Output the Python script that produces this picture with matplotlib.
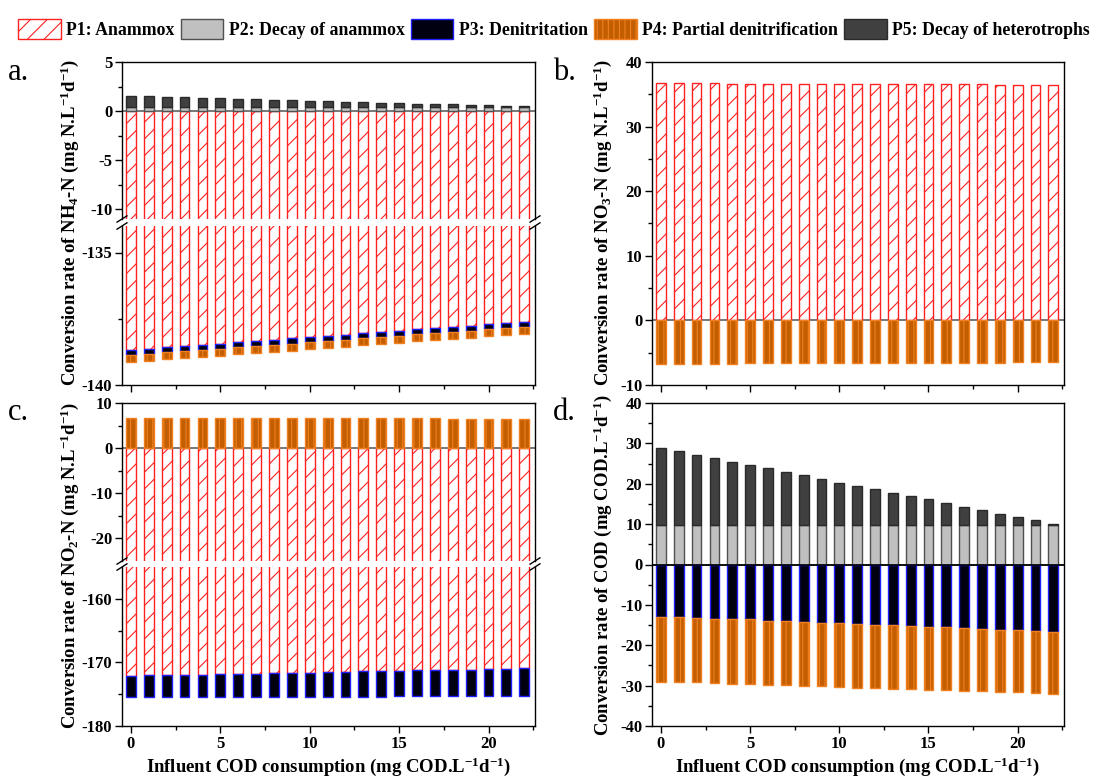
import numpy as np
import matplotlib
matplotlib.use("Agg")
import matplotlib.pyplot as plt
from matplotlib.patches import Patch

plt.rcParams['font.family'] = ['Liberation Serif', 'DejaVu Serif']
plt.rcParams['font.weight'] = 'bold'
plt.rcParams['axes.unicode_minus'] = False
plt.rcParams['mathtext.fontset'] = 'custom'
plt.rcParams['mathtext.rm'] = 'Liberation Serif:bold'
plt.rcParams['mathtext.it'] = 'Liberation Serif:bold'
plt.rcParams['mathtext.bf'] = 'Liberation Serif:bold'
plt.rcParams['hatch.linewidth'] = 0.8

# influent COD consumption (x positions)
cod = list(range(23))

# panel a: NH4-N
a_p1 = [-138.67, -138.63, -138.57, -138.52, -138.48, -138.44, -138.39, -138.33, -138.29, -138.24,
        -138.19, -138.14, -138.10, -138.04, -138.00, -137.96, -137.90, -137.85, -137.80, -137.76,
        -137.71, -137.66, -137.62]
a_p2 = [0.44] * 23
a_p3 = [-0.19, -0.19, -0.20, -0.19, -0.19, -0.20, -0.19, -0.20, -0.19, -0.20, -0.19, -0.20,
        -0.19, -0.20, -0.19, -0.20, -0.19, -0.20, -0.19, -0.20, -0.19, -0.20, -0.20]
a_p4 = [-0.26, -0.26, -0.26, -0.26, -0.26, -0.26, -0.26, -0.26, -0.26, -0.26, -0.26, -0.26,
        -0.26, -0.26, -0.26, -0.26, -0.26, -0.26, -0.26, -0.26, -0.26, -0.26, -0.26]
a_p5 = [1.09, 1.06, 0.99, 0.95, 0.89, 0.85, 0.78, 0.75, 0.72, 0.65, 0.61, 0.55,
        0.51, 0.44, 0.40, 0.36, 0.31, 0.27, 0.23, 0.19, 0.15, 0.12, 0.08]

# panel b: NO3-N
b_p1 = [36.70, 36.69, 36.68, 36.68, 36.67, 36.66, 36.65, 36.64, 36.63, 36.62, 36.61, 36.60,
        36.59, 36.58, 36.57, 36.56, 36.55, 36.54, 36.52, 36.51, 36.50, 36.48, 36.45]
b_p4 = [-6.70, -6.70, -6.69, -6.68, -6.68, -6.67, -6.66, -6.65, -6.64, -6.63, -6.62, -6.61,
        -6.60, -6.59, -6.58, -6.57, -6.56, -6.55, -6.53, -6.52, -6.50, -6.48, -6.45]

# panel c: NO2-N
c_p1 = [-172.07, -172.02, -172.02, -171.92, -171.92, -171.87, -171.81, -171.81, -171.71, -171.66,
        -171.61, -171.50, -171.50, -171.40, -171.35, -171.35, -171.24, -171.24, -171.19, -171.14,
        -171.09, -171.04, -170.93]
c_p3 = [-3.42, -3.46, -3.46, -3.55, -3.55, -3.59, -3.64, -3.63, -3.72, -3.76, -3.80, -3.90,
        -3.89, -3.98, -4.02, -4.01, -4.11, -4.10, -4.14, -4.18, -4.22, -4.26, -4.35]
c_p4 = [6.78, 6.78, 6.77, 6.76, 6.76, 6.72, 6.71, 6.70, 6.69, 6.68, 6.66, 6.64,
        6.63, 6.62, 6.61, 6.60, 6.59, 6.57, 6.56, 6.55, 6.52, 6.50, 6.47]

# panel d: COD
d_p2 = [9.85] * 23
d_p5 = [19.05, 18.25, 17.35, 16.55, 15.65, 14.75, 13.95, 13.05, 12.25, 11.35, 10.45, 9.65,
        8.75, 7.95, 7.05, 6.25, 5.35, 4.45, 3.65, 2.75, 1.95, 1.05, 0.15]
d_p3 = [-12.97, -13.06, -13.20, -13.40, -13.50, -13.60, -13.90, -14.00, -14.20, -14.40, -14.50, -14.70,
        -14.90, -15.10, -15.20, -15.40, -15.60, -15.70, -15.90, -16.10, -16.30, -16.40, -16.60]
d_p4 = [-16.03, -16.04, -16.00, -16.00, -16.00, -16.10, -15.90, -15.95, -15.90, -15.80, -15.85, -15.80,
        -15.70, -15.65, -15.70, -15.60, -15.55, -15.60, -15.50, -15.45, -15.40, -15.45, -15.40]

legend_labels = ['P1: Anammox', 'P2: Decay of anammox', 'P3: Denitritation',
                 'P4: Partial denitrification', 'P5: Decay of heterotrophs']

W = 0.55
sty = {
    'p1': dict(facecolor='white', edgecolor='#FF2020', hatch='//', linewidth=1.0),
    'p2': dict(facecolor='#C0C0C0', edgecolor='#505050', linewidth=1.0),
    'p3': dict(facecolor='#000010', edgecolor='#2020FF', linewidth=1.0),
    'p4': dict(facecolor='#C25E00', edgecolor='#F08020', hatch='|||', linewidth=1.0),
    'p5': dict(facecolor='#404040', edgecolor='#2A2A2A', linewidth=1.0),
}

fig = plt.figure(figsize=(11.05, 7.81), dpi=100)
FW, FH = 1105, 781


def add_ax(x0, x1, y0, y1):
    return fig.add_axes([x0 / FW, 1 - y1 / FH, (x1 - x0) / FW, (y1 - y0) / FH])


def style_ax(ax, labels_x):
    ax.set_xlim(-0.5, 22.6)
    ax.set_xticks([0, 5, 10, 15, 20])
    ax.set_xticks(np.arange(0, 23, 2.5), minor=True)
    ax.tick_params(axis='both', which='major', direction='out', length=5, width=1,
                   labelsize=12, pad=2, top=False, right=False)
    ax.tick_params(axis='both', which='minor', direction='out', length=3, width=1,
                   top=False, right=False)
    if not labels_x:
        ax.tick_params(axis='x', labelbottom=False)
    for s in ax.spines.values():
        s.set_linewidth(1.0)
    ax.axhline(0, color='#606060', linewidth=1.2, zorder=0.5)


def break_marks(top, bot):
    d = 0.012
    kw = dict(color='black', clip_on=False, linewidth=1)
    top.spines['bottom'].set_visible(False)
    bot.spines['top'].set_visible(False)
    top.tick_params(axis='x', which='both', bottom=False, labelbottom=False)
    for x in (0, 1):
        top.plot((x - d, x + d), (-0.02, 0.02), transform=top.transAxes, **kw)
        bot.plot((x - d, x + d), (0.98, 1.02), transform=bot.transAxes, **kw)


# ---- panel a ----
a_top = add_ax(122, 535, 62, 219)
a_bot = add_ax(122, 535, 226, 385)
for ax in (a_top, a_bot):
    ax.bar(cod, a_p1, W, **sty['p1'])
    ax.bar(cod, a_p3, W, bottom=a_p1, **sty['p3'])
    ax.bar(cod, a_p4, W, bottom=np.add(a_p1, a_p3), **sty['p4'])
    ax.bar(cod, a_p2, W, **sty['p2'])
    ax.bar(cod, a_p5, W, bottom=a_p2, **sty['p5'])
    style_ax(ax, False)
a_top.set_ylim(-11, 5)
a_top.set_yticks([5, 0, -5, -10])
a_top.set_yticks([2.5, -2.5, -7.5], minor=True)
a_bot.set_ylim(-140, -134)
a_bot.set_yticks([-135, -140])
a_bot.set_yticks([-137.5], minor=True)
break_marks(a_top, a_bot)

# ---- panel b ----
b = add_ax(652, 1064, 62, 385)
b.bar(cod, b_p1, W, **sty['p1'])
b.bar(cod, b_p4, W, **sty['p4'])
style_ax(b, False)
b.set_ylim(-10, 40)
b.set_yticks([40, 30, 20, 10, 0, -10])
b.set_yticks(np.arange(-5, 40, 10), minor=True)

# ---- panel c ----
c_top = add_ax(122, 535, 403, 561)
c_bot = add_ax(122, 535, 567, 726)
for ax in (c_top, c_bot):
    ax.bar(cod, c_p1, W, **sty['p1'])
    ax.bar(cod, c_p3, W, bottom=c_p1, **sty['p3'])
    ax.bar(cod, c_p4, W, **sty['p4'])
    style_ax(ax, True)
c_top.set_ylim(-25, 10)
c_top.set_yticks([10, 0, -10, -20])
c_top.set_yticks([5, -5, -15], minor=True)
c_bot.set_ylim(-180, -155)
c_bot.set_yticks([-160, -170, -180])
c_bot.set_yticks([-165, -175], minor=True)
break_marks(c_top, c_bot)

# ---- panel d ----
d = add_ax(652, 1064, 403, 726)
d.bar(cod, d_p2, W, **sty['p2'])
d.bar(cod, d_p5, W, bottom=d_p2, **sty['p5'])
d.bar(cod, d_p3, W, **sty['p3'])
d.bar(cod, d_p4, W, bottom=d_p3, **sty['p4'])
style_ax(d, True)
d.set_ylim(-40, 40)
d.set_yticks(np.arange(-40, 41, 10))
d.set_yticks(np.arange(-35, 40, 10), minor=True)
d.axhline(0, color='black', linewidth=1.2, zorder=3)

xlab = 'Influent COD consumption (mg COD.L$^{-1}$d$^{-1}$)'
c_bot.set_xlabel(xlab, fontsize=13.5, fontweight='bold', labelpad=3)
d.set_xlabel(xlab, fontsize=13.5, fontweight='bold', labelpad=3)

ylab_kw = dict(rotation=90, ha='center', va='center', fontsize=13.5, fontweight='bold')
fig.text(70 / FW, 1 - 222 / FH, 'Conversion rate of NH$_4$-N (mg N.L$^{-1}$d$^{-1}$)', **ylab_kw)
fig.text(603 / FW, 1 - 222 / FH, 'Conversion rate of NO$_3$-N (mg N.L$^{-1}$d$^{-1}$)', **ylab_kw)
fig.text(70 / FW, 1 - 565 / FH, 'Conversion rate of NO$_2$-N (mg N.L$^{-1}$d$^{-1}$)', **ylab_kw)
fig.text(603 / FW, 1 - 565 / FH, 'Conversion rate of COD (mg COD.L$^{-1}$d$^{-1}$)', **ylab_kw)

for lab, (x, y) in zip(['a.', 'b.', 'c.', 'd.'], [(8, 73), (553, 73), (8, 413), (553, 413)]):
    fig.text(x / FW, 1 - y / FH, lab, fontsize=22, fontweight='normal', va='center', ha='left')

handles = [Patch(**sty[k]) for k in ['p1', 'p2', 'p3', 'p4', 'p5']]
fig.legend(handles, legend_labels, loc='center left', bbox_to_anchor=(18 / FW, 1 - 29 / FH), ncol=5,
           frameon=False, fontsize=12.8, handlelength=2.4, handleheight=1.3,
           handletextpad=0.3, columnspacing=0.35, borderaxespad=0, borderpad=0)

fig.savefig('out.png', dpi=100)
